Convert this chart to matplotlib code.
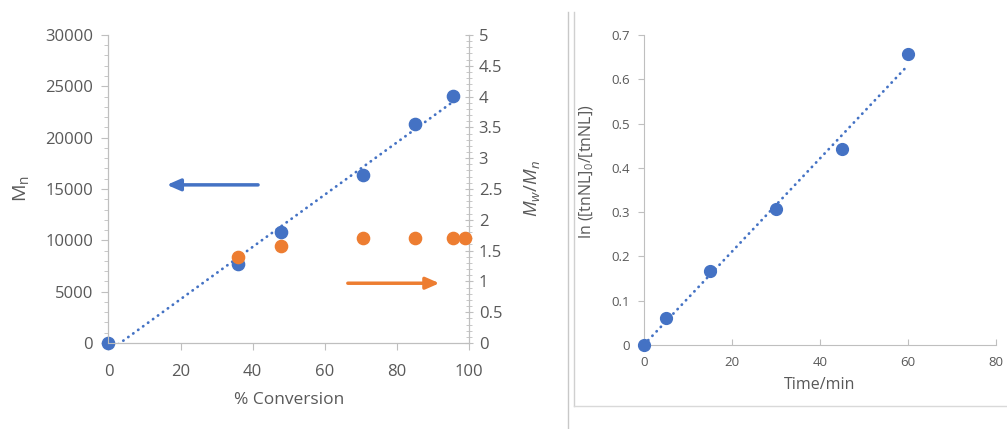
import numpy as np
import matplotlib.pyplot as plt
from matplotlib.ticker import MultipleLocator
from matplotlib.lines import Line2D

plt.rcParams['font.family'] = ['Open Sans', 'DejaVu Sans']
plt.rcParams['mathtext.fontset'] = 'custom'
plt.rcParams['mathtext.rm'] = 'Open Sans'
plt.rcParams['mathtext.it'] = 'Open Sans:italic'

# left panel: Mn and dispersity vs conversion
conv_mn = [0, 36, 48, 70.5, 85, 95.5]
mn = [0, 7700, 10800, 16400, 21300, 24100]
conv_pdi = [36, 48, 70.5, 85, 95.5, 99]
pdi = [1.39, 1.58, 1.70, 1.70, 1.70, 1.70]

# right panel: first-order kinetics
time_min = [0, 5, 15, 30, 45, 60]
ln_ratio = [0, 0.060, 0.168, 0.306, 0.443, 0.657]

BLUE = '#4472C4'
ORANGE = '#ED7D31'
TXT = '#595959'
AX = '#BFBFBF'
DOTS = (0, (0.1, 2.1))

fig = plt.figure(figsize=(10.07, 4.29), dpi=100)

# ---- left chart ----
ax = fig.add_axes([0.1077, 0.2005, 0.358, 0.718])
ax2 = ax.twinx()

k, b = np.polyfit(conv_mn, mn, 1)
xfit = np.array([min(conv_mn), max(conv_mn)])
ax.plot(xfit, k * xfit + b, color=BLUE, lw=2, ls=DOTS, dash_capstyle='round')
ax.plot(conv_mn, mn, 'o', color=BLUE, ms=8.8, clip_on=False, zorder=5)
ax2.plot(conv_pdi, pdi, 'o', color=ORANGE, ms=8.8, clip_on=False, zorder=5)

ax.set_xlim(0, 100)
ax.set_ylim(0, 30000)
ax2.set_ylim(0, 5)
ax.xaxis.set_major_locator(MultipleLocator(20))
ax.yaxis.set_major_locator(MultipleLocator(5000))
ax.yaxis.set_minor_locator(MultipleLocator(1000))
ax2.yaxis.set_major_locator(MultipleLocator(0.5))
ax2.yaxis.set_minor_locator(MultipleLocator(0.1))
ax2.yaxis.set_major_formatter(lambda v, p: f'{v:g}')

for a in (ax, ax2):
    for s in a.spines.values():
        s.set_color(AX)
    a.spines['top'].set_visible(False)
ax.tick_params(axis='both', which='both', colors=AX, labelcolor=TXT, labelsize=12)
ax.tick_params(axis='y', which='major', length=5)
ax.tick_params(axis='y', which='minor', length=3)
ax.tick_params(axis='x', length=5, pad=10)
ax2.tick_params(axis='y', which='both', colors=AX, labelcolor=TXT, labelsize=12,
                direction='inout')
ax2.tick_params(axis='y', which='major', length=6)
ax2.tick_params(axis='y', which='minor', length=4)
ax.tick_params(axis='y', pad=6)
ax2.tick_params(axis='y', pad=4)

ax.set_xlabel('% Conversion', color=TXT, fontsize=12.5, labelpad=9)
ax.set_ylabel(r'M$_\mathrm{n}$', color=TXT, fontsize=14, labelpad=10)
ax2.set_ylabel(r'$M_w/M_n$', color=TXT, fontsize=13.5, labelpad=14)

ax.annotate('', xy=(16.2, 15400), xytext=(41.5, 15400),
            arrowprops=dict(arrowstyle='-|>,head_length=0.8,head_width=0.35',
                            color=BLUE, lw=2.5, shrinkA=0, shrinkB=0))
ax2.annotate('', xy=(91.8, 0.97), xytext=(66.4, 0.97),
             arrowprops=dict(arrowstyle='-|>,head_length=0.8,head_width=0.35',
                             color=ORANGE, lw=2.5, shrinkA=0, shrinkB=0))

# ---- right chart ----
bx = fig.add_axes([0.6395, 0.1958, 0.3496, 0.7226])
k2, b2 = np.polyfit(time_min, ln_ratio, 1)
tfit = np.array([min(time_min), max(time_min)])
bx.plot(tfit, k2 * tfit + b2, color=BLUE, lw=2, ls=DOTS, dash_capstyle='round')
bx.plot(time_min, ln_ratio, 'o', color=BLUE, ms=8.5, clip_on=False, zorder=5)
bx.set_xlim(0, 80)
bx.set_ylim(0, 0.7)
bx.xaxis.set_major_locator(MultipleLocator(20))
bx.yaxis.set_major_locator(MultipleLocator(0.1))
bx.yaxis.set_major_formatter(lambda v, p: '0' if abs(v) < 1e-9 else f'{v:.1f}')
for s in ('top', 'right'):
    bx.spines[s].set_visible(False)
for s in ('left', 'bottom'):
    bx.spines[s].set_color(AX)
bx.tick_params(axis='both', colors=AX, labelcolor=TXT, labelsize=9.5, length=4)
bx.tick_params(axis='x', direction='in', pad=8)
bx.tick_params(axis='y', pad=6)
bx.set_xlabel('Time/min', color=TXT, fontsize=11.5, labelpad=6)
bx.set_ylabel(r'ln ([tnNL]$_0$/[tnNL])', color=TXT, fontsize=11.5)
bx.yaxis.set_label_coords(-0.135, 0.56)

# frame lines between the two panels
W, H = 1007, 429
fig.add_artist(Line2D([567.7 / W] * 2, [0, 1 - 12 / H], color='#C8C8C8', lw=1))
fig.add_artist(Line2D([574.3 / W] * 2, [1 - 406 / H, 1 - 12 / H], color='#D0D0D0', lw=1))
fig.add_artist(Line2D([574.3 / W, 1], [1 - 406 / H] * 2, color='#D9D9D9', lw=1))

fig.savefig('out.png', dpi=100)
